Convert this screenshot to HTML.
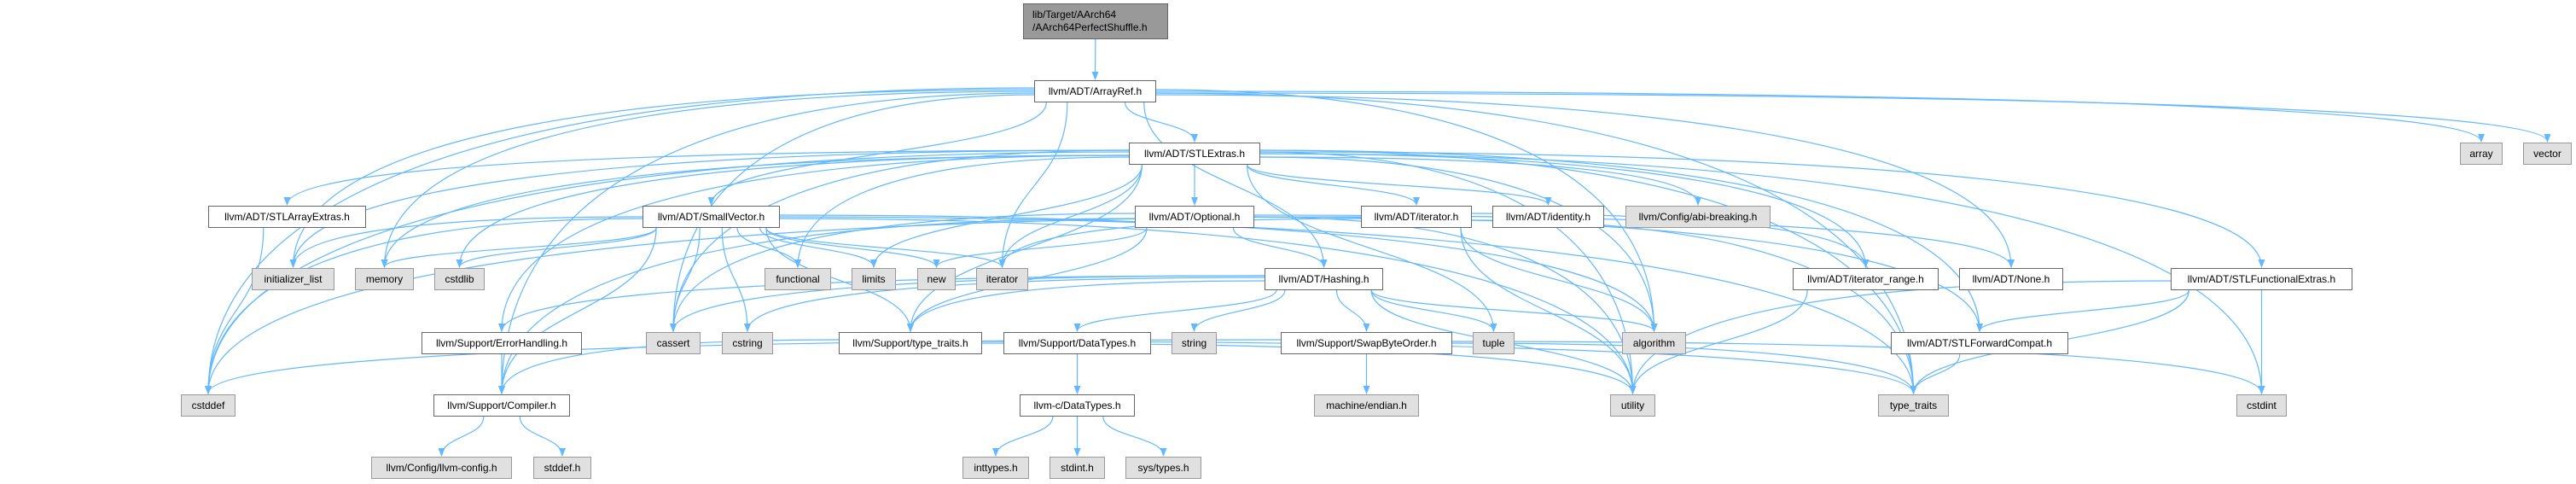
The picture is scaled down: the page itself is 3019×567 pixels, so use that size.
<!DOCTYPE html>
<html><head><meta charset="utf-8"><style>
html,body{margin:0;padding:0;background:#fff;}
#c{position:relative;width:3019px;height:567px;overflow:hidden;}
.n{position:absolute;box-sizing:border-box;border:1px solid #666;background:#fff;font:12px "Liberation Sans",sans-serif;color:#000;display:flex;align-items:center;justify-content:center;white-space:nowrap;height:26px;}
.g{background:#e0e0e0;border-color:#999;}
.r{background:#999;border-color:#666;height:42px;flex-direction:column;align-items:flex-start;padding-left:10px;line-height:15px;justify-content:center;}
svg{position:absolute;left:0;top:0;}
</style></head><body><div id="c">
<svg id="s" width="3019" height="567"><defs><marker id="a" markerWidth="10" markerHeight="10" refX="9" refY="5" orient="auto" markerUnits="userSpaceOnUse"><path d="M0,1 L10,5 L0,9 z" fill="#63b8ff"/></marker></defs></svg>
</div>
<script>
var N={
root:[1199,1369,4,"lib/Target/AArch64<br>/AArch64PerfectShuffle.h","r"],
ArrayRef:[1212,1355,94,"llvm/ADT/ArrayRef.h"],
STLExtras:[1323,1477,167,"llvm/ADT/STLExtras.h"],
array:[2883,2933,167,"array","g"],
vector:[2957,3014,167,"vector","g"],
STLArrayExtras:[244,429,241,"llvm/ADT/STLArrayExtras.h"],
SmallVector:[753,914,241,"llvm/ADT/SmallVector.h"],
Optional:[1330,1470,241,"llvm/ADT/Optional.h"],
iteratorh:[1595,1725,241,"llvm/ADT/iterator.h"],
identity:[1749,1880,241,"llvm/ADT/identity.h"],
abi:[1905,2075,241,"llvm/Config/abi-breaking.h","g"],
initializer_list:[295,392,314,"initializer_list","g"],
memory:[416,485,314,"memory","g"],
cstdlib:[509,568,314,"cstdlib","g"],
functional:[896,974,314,"functional","g"],
limits:[998,1050,314,"limits","g"],
"new":[1075,1120,314,"new","g"],
iterator:[1144,1205,314,"iterator","g"],
Hashing:[1482,1621,314,"llvm/ADT/Hashing.h"],
iterator_range:[2101,2272,314,"llvm/ADT/iterator_range.h"],
None:[2296,2418,314,"llvm/ADT/None.h"],
STLFunctionalExtras:[2544,2757,314,"llvm/ADT/STLFunctionalExtras.h"],
ErrorHandling:[494,682,389,"llvm/Support/ErrorHandling.h"],
cassert:[757,821,389,"cassert","g"],
cstring:[846,906,389,"cstring","g"],
stt:[983,1151,389,"llvm/Support/type_traits.h"],
DataTypes:[1176,1349,389,"llvm/Support/DataTypes.h"],
string:[1373,1426,389,"string","g"],
Swap:[1501,1702,389,"llvm/Support/SwapByteOrder.h"],
tuple:[1726,1775,389,"tuple","g"],
algorithm:[1901,1976,389,"algorithm","g"],
STLForwardCompat:[2216,2424,389,"llvm/ADT/STLForwardCompat.h"],
cstddef:[212,276,462,"cstddef","g"],
Compiler:[508,668,462,"llvm/Support/Compiler.h"],
cDataTypes:[1195,1330,462,"llvm-c/DataTypes.h"],
endian:[1540,1663,462,"machine/endian.h","g"],
utility:[1887,1940,462,"utility","g"],
type_traits:[2201,2284,462,"type_traits","g"],
cstdint:[2621,2680,462,"cstdint","g"],
config:[435,600,535,"llvm/Config/llvm-config.h","g"],
stddef:[625,693,535,"stddef.h","g"],
inttypes:[1128,1206,535,"inttypes.h","g"],
stdint:[1230,1295,535,"stdint.h","g"],
systypes:[1319,1408,535,"sys/types.h","g"]
};
var E={
root:"ArrayRef",
ArrayRef:"STLExtras SmallVector iterator Compiler cassert cstddef initializer_list memory type_traits None Hashing algorithm array vector",
STLExtras:"STLArrayExtras Optional iteratorh identity abi STLForwardCompat STLFunctionalExtras iterator_range ErrorHandling algorithm cassert cstddef cstdint cstdlib functional initializer_list iterator limits memory tuple type_traits utility stt",
SmallVector:"Compiler algorithm cassert cstddef cstdlib cstring functional initializer_list iterator limits memory new type_traits utility stt",
Optional:"Hashing None STLForwardCompat Compiler stt cassert new utility",
iteratorh:"iterator_range algorithm cstddef iterator type_traits utility",
Hashing:"ErrorHandling DataTypes Swap stt algorithm cassert cstring string tuple utility",
STLArrayExtras:"cstddef",
ErrorHandling:"Compiler",
stt:"Compiler type_traits utility",
DataTypes:"cDataTypes",
Swap:"cstddef cstdint type_traits endian",
STLForwardCompat:"type_traits",
STLFunctionalExtras:"STLForwardCompat cstdint type_traits utility",
iterator_range:"utility",
Compiler:"config stddef",
cDataTypes:"inttypes stdint systypes"
};
var c=document.getElementById('c'),s=document.getElementById('s');
for(var k in N){var d=N[k],e=document.createElement('div');e.className='n '+(d[4]||'');e.style.left=d[0]+'px';e.style.width=(d[1]-d[0])+'px';e.style.top=d[2]+'px';e.innerHTML=d[3];c.appendChild(e);}
function H(k){return N[k][4]=='r'?42:26;}
for(var k in E){var a=N[k],cx=(a[0]+a[1])/2,sy=a[2]+H(k),hw=(a[1]-a[0])/2,my0=a[2]+H(k)/2;
var top=(k=="ArrayRef"||k=="STLExtras");
E[k].split(' ').forEach(function(t,i){var b=N[t],tx=(b[0]+b[1])/2,ty=b[2];
var p;
if(top&&Math.abs(tx-cx)>450){var L=tx<cx;var sx=L?a[0]:a[1];var sy2=my0+((i%5)-2)*2;
var dx=tx-sx;p="M"+sx+","+sy2+" C"+(sx+dx*0.6)+","+sy2+" "+tx+","+(sy2+(ty-sy2)*0.3)+" "+tx+","+(ty-1);}
else{var off=Math.max(-hw*0.8,Math.min(hw*0.8,(tx-cx)*0.3));var sx=cx+off;var dy=ty-sy;
p="M"+sx+","+sy+" C"+sx+","+(sy+dy*0.5)+" "+tx+","+(ty-dy*0.5)+" "+tx+","+(ty-1);}
var pe=document.createElementNS('http://www.w3.org/2000/svg','path');pe.setAttribute('d',p);pe.setAttribute('fill','none');pe.setAttribute('stroke','#63b8ff');pe.setAttribute('stroke-width','1.2');pe.setAttribute('marker-end','url(#a)');s.appendChild(pe);});}
</script>
</body></html>
